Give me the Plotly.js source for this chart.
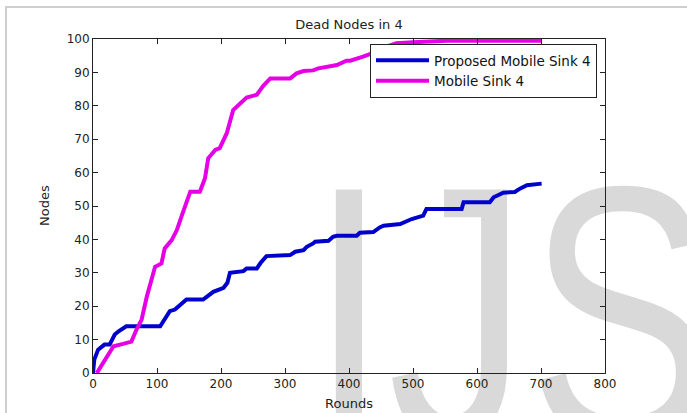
<!DOCTYPE html>
<html>
<head>
<meta charset="utf-8">
<script src="https://cdn.plot.ly/plotly-3.0.1.min.js"></script>
<style>
  html, body { margin: 0; padding: 0; background: #ffffff; }
  #wrap { position: relative; width: 687px; height: 413px; overflow: hidden; background: #ffffff; }
  #frame { position: absolute; left: 5px; top: 6px; width: 700px; height: 420px;
           border-left: 2px solid #cfcfcf; border-top: 2px solid #cfcfcf; }
  #wm { position: absolute; left: 310px; top: 145px; font-family: "Liberation Sans", Arial, sans-serif;
        font-size: 280px; line-height: 280px; color: #d9d9d9; white-space: nowrap;
        transform-origin: 0 44px; transform: scaleY(1.3); }
  #chart { position: absolute; left: 0; top: 0; width: 687px; height: 413px; }
</style>
</head>
<body>
<div id="wrap">
  <div id="frame"></div>
  <div id="wm">IJS</div>
  <div id="chart"></div>
</div>
<script>
// Proposed Mobile Sink 4 (blue)
const proposedRounds = [0, 2, 8, 18, 26, 34, 40, 47, 52, 105, 112, 120, 128, 134, 146, 172, 180, 188, 204, 210, 214, 235, 240, 256, 262, 271, 308, 316, 329, 334, 344, 347, 368, 375, 381, 412, 417, 438, 448, 454, 480, 498, 516, 521, 576, 579, 620, 626, 641, 659, 667, 678, 701];
const proposedNodes  = [0, 4, 7, 8.5, 8.5, 11.5, 12.5, 13.5, 14, 14, 16, 18.5, 19, 20, 22, 22, 23, 24.3, 25.5, 27, 30, 30.5, 31.3, 31.3, 33, 35, 35.3, 36.3, 36.8, 37.8, 38.8, 39.3, 39.6, 40.8, 41.1, 41.1, 42, 42.2, 43.6, 44.1, 44.6, 46.1, 47.1, 49.1, 49.1, 51.1, 51.1, 52.6, 54, 54.2, 55.2, 56.2, 56.7];
// Mobile Sink 4 (magenta)
const mobileRounds = [6, 11, 21, 32, 47, 60, 68, 76, 84, 92, 97, 107, 112, 123, 131, 139, 146, 152, 167, 175, 180, 191, 198, 209, 219, 230, 240, 256, 266, 277, 308, 318, 329, 344, 352, 375, 381, 396, 402, 422, 440, 455, 474, 500, 553, 701];
const mobileNodes  = [0, 1.5, 5, 8, 8.7, 9.4, 13, 16, 22.8, 28.8, 31.8, 32.8, 37.3, 39.8, 42.8, 47.3, 51.3, 54.3, 54.3, 58.3, 64.3, 66.8, 67.3, 71.8, 78.7, 80.7, 82.5, 83.3, 86, 88.2, 88.2, 89.7, 90.4, 90.6, 91.2, 92, 92.2, 93.5, 93.5, 94.7, 96, 97.5, 98.7, 99, 99.5, 99.5];

const xTicks = [0, 100, 200, 300, 400, 500, 600, 700, 800];
const yTicks = [0, 10, 20, 30, 40, 50, 60, 70, 80, 90, 100];

const traces = [
  { x: proposedRounds, y: proposedNodes, type: 'scatter', mode: 'lines',
    name: 'Proposed Mobile Sink 4', line: { color: '#0000cd', width: 4 } },
  { x: mobileRounds, y: mobileNodes, type: 'scatter', mode: 'lines',
    name: 'Mobile Sink 4', line: { color: '#e600e6', width: 4 } }
];

const axisCommon = {
  showline: true, linecolor: '#222222', linewidth: 1, mirror: 'ticks',
  ticks: 'inside', ticklen: 5, tickcolor: '#222222', tickwidth: 1,
  showgrid: false, zeroline: false,
  tickfont: { family: 'DejaVu Sans, sans-serif', size: 12, color: '#222222' }
};

const layout = {
  width: 687, height: 413,
  margin: { l: 93, r: 82, t: 39, b: 40 },
  paper_bgcolor: 'rgba(0,0,0,0)', plot_bgcolor: 'rgba(0,0,0,0)',
  showlegend: true,
  title: { text: 'Dead Nodes in 4', x: 0.5, xref: 'paper', xanchor: 'center',
           y: 1 - 24/413, yref: 'container', yanchor: 'middle',
           font: { family: 'DejaVu Sans, sans-serif', size: 13, color: '#222222' } },
  xaxis: Object.assign({}, axisCommon, { range: [0, 800], tickvals: xTicks, ticktext: xTicks.map(String) }),
  yaxis: Object.assign({}, axisCommon, { range: [0, 100], tickvals: yTicks, ticktext: yTicks.map(String) }),
  legend: { x: (597-93)/512, y: (373-44)/334, xanchor: 'right', yanchor: 'top',
            bgcolor: '#ffffff', bordercolor: '#222222', borderwidth: 1,
            itemwidth: 53,
            font: { family: 'DejaVu Sans, sans-serif', size: 13.5, color: '#111111' },
            tracegroupgap: 0 },
  annotations: [
    { text: 'Rounds', xref: 'paper', yref: 'paper', x: 0.5, y: (373-403)/334,
      xanchor: 'center', yanchor: 'middle', showarrow: false,
      font: { family: 'DejaVu Sans, sans-serif', size: 13, color: '#222222' } },
    { text: 'Nodes', xref: 'paper', yref: 'paper', x: (44-93)/512, y: 0.5, textangle: -90,
      xanchor: 'center', yanchor: 'middle', showarrow: false,
      font: { family: 'DejaVu Sans, sans-serif', size: 13, color: '#222222' } }
  ]
};

Plotly.newPlot('chart', traces, layout, { displayModeBar: false, staticPlot: true });
</script>
</body>
</html>
